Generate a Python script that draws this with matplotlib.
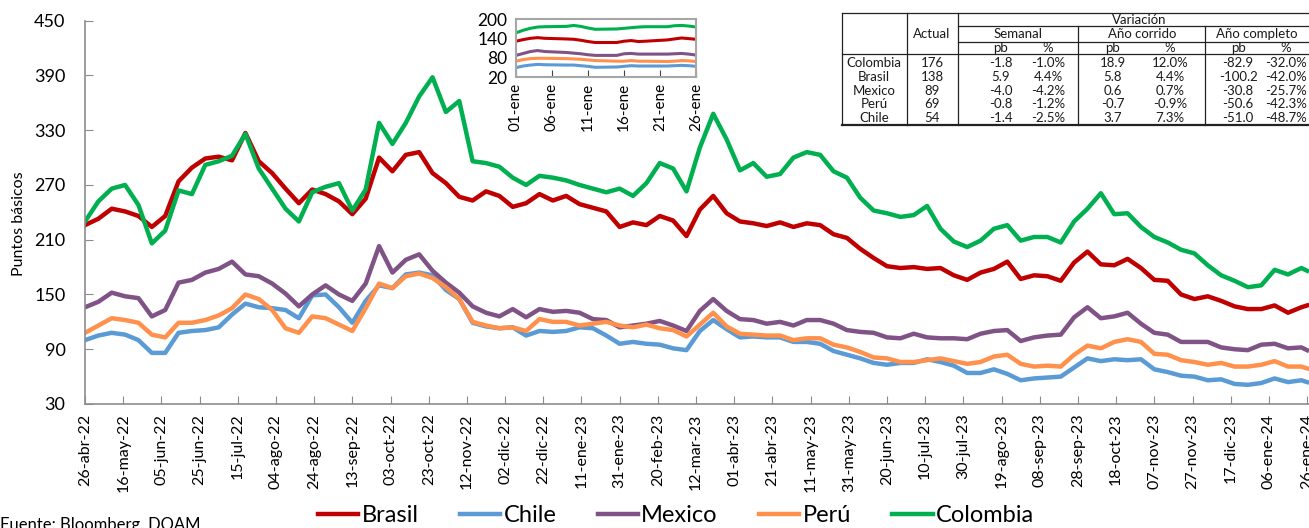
import matplotlib
matplotlib.use('Agg')
import matplotlib.pyplot as plt
from matplotlib.lines import Line2D
import pandas as pd

plt.rcParams['font.family'] = ['Lato', 'DejaVu Sans']

MESES = ['ene', 'feb', 'mar', 'abr', 'may', 'jun', 'jul', 'ago', 'sep', 'oct', 'nov', 'dic']

# datos semanales (pb), 26-abr-22 a 26-ene-24
fechas = list(pd.date_range('2022-04-26', periods=92, freq='7D')) + [pd.Timestamp('2024-01-26')]

brasil = [226, 233, 244, 241, 236, 224, 236, 274, 289, 299,
          301, 297, 327, 296, 283, 266, 250, 265, 260, 252,
          238, 255, 300, 285, 303, 306, 283, 272, 257, 253,
          263, 258, 246, 250, 260, 253, 258, 249, 245, 241,
          224, 229, 226, 236, 231, 214, 243, 258, 239, 230,
          228, 225, 229, 224, 228, 226, 216, 212, 200, 190,
          181, 179, 180, 178, 179, 171, 166, 174, 178, 186,
          167, 171, 170, 165, 185, 197, 183, 182, 189, 179,
          166, 165, 150, 145, 148, 143, 137, 134, 134, 138,
          130, 136, 138]
chile = [100, 105, 108, 106, 100, 86, 86, 108, 110, 111,
         114, 128, 140, 136, 135, 133, 124, 149, 150, 136,
         119, 143, 160, 157, 172, 174, 171, 155, 145, 119,
         115, 113, 114, 105, 110, 109, 110, 114, 113, 105,
         96, 98, 96, 95, 91, 89, 110, 122, 112, 103,
         104, 103, 103, 98, 98, 96, 88, 84, 80, 75,
         73, 75, 75, 79, 76, 72, 64, 64, 68, 63,
         56, 58, 59, 60, 70, 80, 77, 79, 78, 79,
         68, 65, 61, 60, 56, 57, 52, 51, 53, 58,
         54, 56, 54]
mexico = [136, 142, 152, 148, 146, 126, 133, 163, 166, 174,
          178, 186, 172, 170, 162, 151, 137, 150, 160, 150,
          143, 162, 203, 174, 188, 194, 176, 163, 152, 137,
          130, 126, 134, 125, 134, 131, 132, 130, 123, 122,
          114, 116, 118, 121, 116, 110, 132, 145, 132, 123,
          122, 118, 120, 116, 122, 122, 118, 111, 109, 108,
          103, 102, 107, 103, 102, 102, 101, 107, 110, 111,
          99, 103, 105, 106, 125, 136, 124, 126, 130, 118,
          108, 106, 98, 98, 98, 92, 90, 89, 95, 96,
          91, 92, 89]
peru = [108, 116, 124, 122, 119, 106, 103, 119, 119, 122,
        127, 135, 150, 145, 133, 113, 108, 126, 124, 117,
        110, 135, 162, 157, 170, 173, 168, 158, 145, 120,
        116, 113, 114, 110, 123, 120, 120, 116, 118, 120,
        116, 114, 117, 113, 111, 104, 117, 130, 115, 107,
        106, 105, 105, 100, 102, 102, 95, 92, 87, 81,
        80, 76, 76, 78, 80, 77, 74, 76, 82, 84,
        74, 71, 72, 71, 84, 94, 91, 98, 101, 98,
        85, 84, 78, 76, 73, 75, 71, 71, 73, 77,
        71, 71, 69]
colombia = [230, 252, 266, 270, 248, 206, 220, 264, 260, 292,
            296, 302, 326, 288, 266, 244, 230, 262, 268, 272,
            242, 265, 338, 315, 338, 367, 388, 350, 362, 296,
            294, 290, 278, 270, 280, 278, 275, 270, 266, 262,
            266, 258, 272, 294, 288, 263, 311, 348, 320, 286,
            294, 279, 282, 300, 306, 303, 285, 278, 256, 242,
            239, 235, 237, 247, 222, 208, 202, 209, 222, 226,
            209, 213, 213, 207, 230, 244, 261, 238, 239, 224,
            213, 207, 199, 195, 182, 171, 165, 158, 160, 177,
            172, 179, 176]

# recuadro: enero 2024 (diario)
dias_ene = [1, 2, 3, 4, 5, 8, 9, 10, 11, 12, 15, 16, 17, 18, 19, 22, 23, 24, 25, 26]
brasil_ene = [132, 137, 141, 143, 141, 139, 138, 135, 131, 128, 128, 132, 134, 131, 132, 136, 139, 142, 140, 138]
chile_ene = [50, 55, 58, 60, 59, 58, 58, 56, 54, 51, 52, 54, 56, 55, 55, 55, 56, 57, 56, 54]
mexico_ene = [88, 94, 100, 103, 100, 97, 95, 93, 90, 88, 88, 93, 94, 92, 92, 92, 93, 94, 92, 89]
peru_ene = [70, 75, 78, 79, 79, 78, 77, 76, 74, 72, 70, 70, 72, 70, 70, 69, 70, 72, 71, 69]
colombia_ene = [158, 166, 172, 176, 177, 178, 181, 178, 173, 169, 170, 172, 174, 176, 177, 177, 180, 181, 179, 176]

# tabla
paises = ['Colombia', 'Brasil', 'Mexico', 'Perú', 'Chile']
actual = ['176', '138', '89', '69', '54']
sem_pb = ['-1.8', '5.9', '-4.0', '-0.8', '-1.4']
sem_pct = ['-1.0%', '4.4%', '-4.2%', '-1.2%', '-2.5%']
ytd_pb = ['18.9', '5.8', '0.6', '-0.7', '3.7']
ytd_pct = ['12.0%', '4.4%', '0.7%', '-0.9%', '7.3%']
anual_pb = ['-82.9', '-100.2', '-30.8', '-50.6', '-51.0']
anual_pct = ['-32.0%', '-42.0%', '-25.7%', '-42.3%', '-48.7%']

colores = {'Brasil': '#C00000', 'Chile': '#5B9BD5', 'Mexico': '#7F5386',
           'Perú': '#FF914D', 'Colombia': '#00B050'}

W, H = 1309, 528
fig = plt.figure(figsize=(W / 100, H / 100), dpi=100)


def caja(x0, y0, x1, y1):
    return [x0 / W, 1 - y1 / H, (x1 - x0) / W, (y1 - y0) / H]


def fx(x):
    return x / W


def fy(y):
    return 1 - y / H


gris = '#8C8C8C'

# grafico principal
ax = fig.add_axes(caja(85, 20.7, 1309, 404))
series = [('Brasil', brasil), ('Chile', chile), ('Mexico', mexico), ('Perú', peru), ('Colombia', colombia)]
for nombre, vals in series:
    ax.plot(fechas, vals, color=colores[nombre], lw=3.2, label=nombre, solid_joinstyle='round')

inicio = pd.Timestamp('2022-04-26')
ax.set_xlim(inicio, inicio + pd.Timedelta(days=641))
ax.set_ylim(30, 450)
ax.set_yticks(range(30, 451, 60))
ticks = pd.date_range(inicio, periods=33, freq='20D')
ax.set_xticks(ticks)
ax.set_xticklabels([f'{d.day:02d}-{MESES[d.month - 1]}-{d.year % 100:02d}' for d in ticks], rotation=90)
ax.tick_params(axis='y', direction='in', length=6, color=gris, labelsize=13, pad=14)
ax.tick_params(axis='x', direction='in', length=6, color=gris, labelsize=11.5, pad=7)
for s in ['top', 'right']:
    ax.spines[s].set_visible(False)
for s in ['left', 'bottom']:
    ax.spines[s].set_color(gris)
    ax.spines[s].set_linewidth(1.2)
ax.set_ylabel('Puntos básicos', fontsize=11.5)
ax.yaxis.set_label_coords(-59 / 1224, 0.47)

# recuadro enero
ins = fig.add_axes(caja(516, 19.3, 696, 77.3))
for nombre, vals in [('Brasil', brasil_ene), ('Chile', chile_ene), ('Mexico', mexico_ene),
                     ('Perú', peru_ene), ('Colombia', colombia_ene)]:
    ins.plot(dias_ene, vals, color=colores[nombre], lw=2.2)
ins.set_xlim(1, 26)
ins.set_ylim(20, 200)
ins.set_yticks([20, 80, 140, 200])
ins.set_xticks([1, 6, 11, 16, 21, 26])
ins.set_xticklabels([f'{d:02d}-ene' for d in [1, 6, 11, 16, 21, 26]], rotation=90)
ins.tick_params(axis='y', length=0, labelsize=12.5, pad=6)
ins.tick_params(axis='x', direction='in', length=5, color='#404040', labelsize=11, pad=4)
for s in ins.spines.values():
    s.set_color('#A6A6A6')
    s.set_linewidth(1.5)

# tabla
tx = dict(fontsize=9.5, ha='center', va='center', color='#1a1a1a')
col_pais, col_act = 874, 932
cols = [1001, 1048, 1113, 1170, 1238, 1286]
fig.text(fx(1139), fy(20), 'Variación', **tx)
fig.text(fx(col_act), fy(34), 'Actual', **tx)
for cx, t in [(1018, 'Semanal'), (1142, 'Año corrido'), (1257, 'Año completo')]:
    fig.text(fx(cx), fy(34), t, **tx)
for cx, t in zip(cols, ['pb', '%'] * 3):
    fig.text(fx(cx), fy(48), t, **tx)
filas_y = [62.7, 76.7, 90.7, 104.3, 118.3]
for i, yy in enumerate(filas_y):
    fig.text(fx(col_pais), fy(yy), paises[i], **tx)
    fig.text(fx(col_act), fy(yy), actual[i], **tx)
    for cx, v in zip(cols, [sem_pb[i], sem_pct[i], ytd_pb[i], ytd_pct[i], anual_pb[i], anual_pct[i]]):
        fig.text(fx(cx), fy(yy), v, **tx)


def linea(x0, y0, x1, y1, lw=0.9):
    fig.add_artist(Line2D([fx(x0), fx(x1)], [fy(y0), fy(y1)], color='#222222', lw=lw))


linea(842, 13.3, 1330, 13.3)
linea(842, 125, 1330, 125, lw=1.6)
linea(842, 13.3, 842, 125)
for xv in [907, 958, 1078, 1205]:
    linea(xv, 13.3 if xv < 1000 else 25.7, xv, 125)
linea(958, 25.7, 1330, 25.7)
linea(958, 42, 1330, 42)
linea(842, 54, 1330, 54)

# leyenda y fuente
fig.legend(loc='center', bbox_to_anchor=(fx(676), fy(516)), ncol=5, frameon=False,
           fontsize=17, handlelength=1.7, handletextpad=0.15, columnspacing=1.75)
fig.text(0.0, fy(517), 'Fuente: Bloomberg, DOAM', fontsize=12, ha='left', va='top')

fig.savefig('out.png', dpi=100)
